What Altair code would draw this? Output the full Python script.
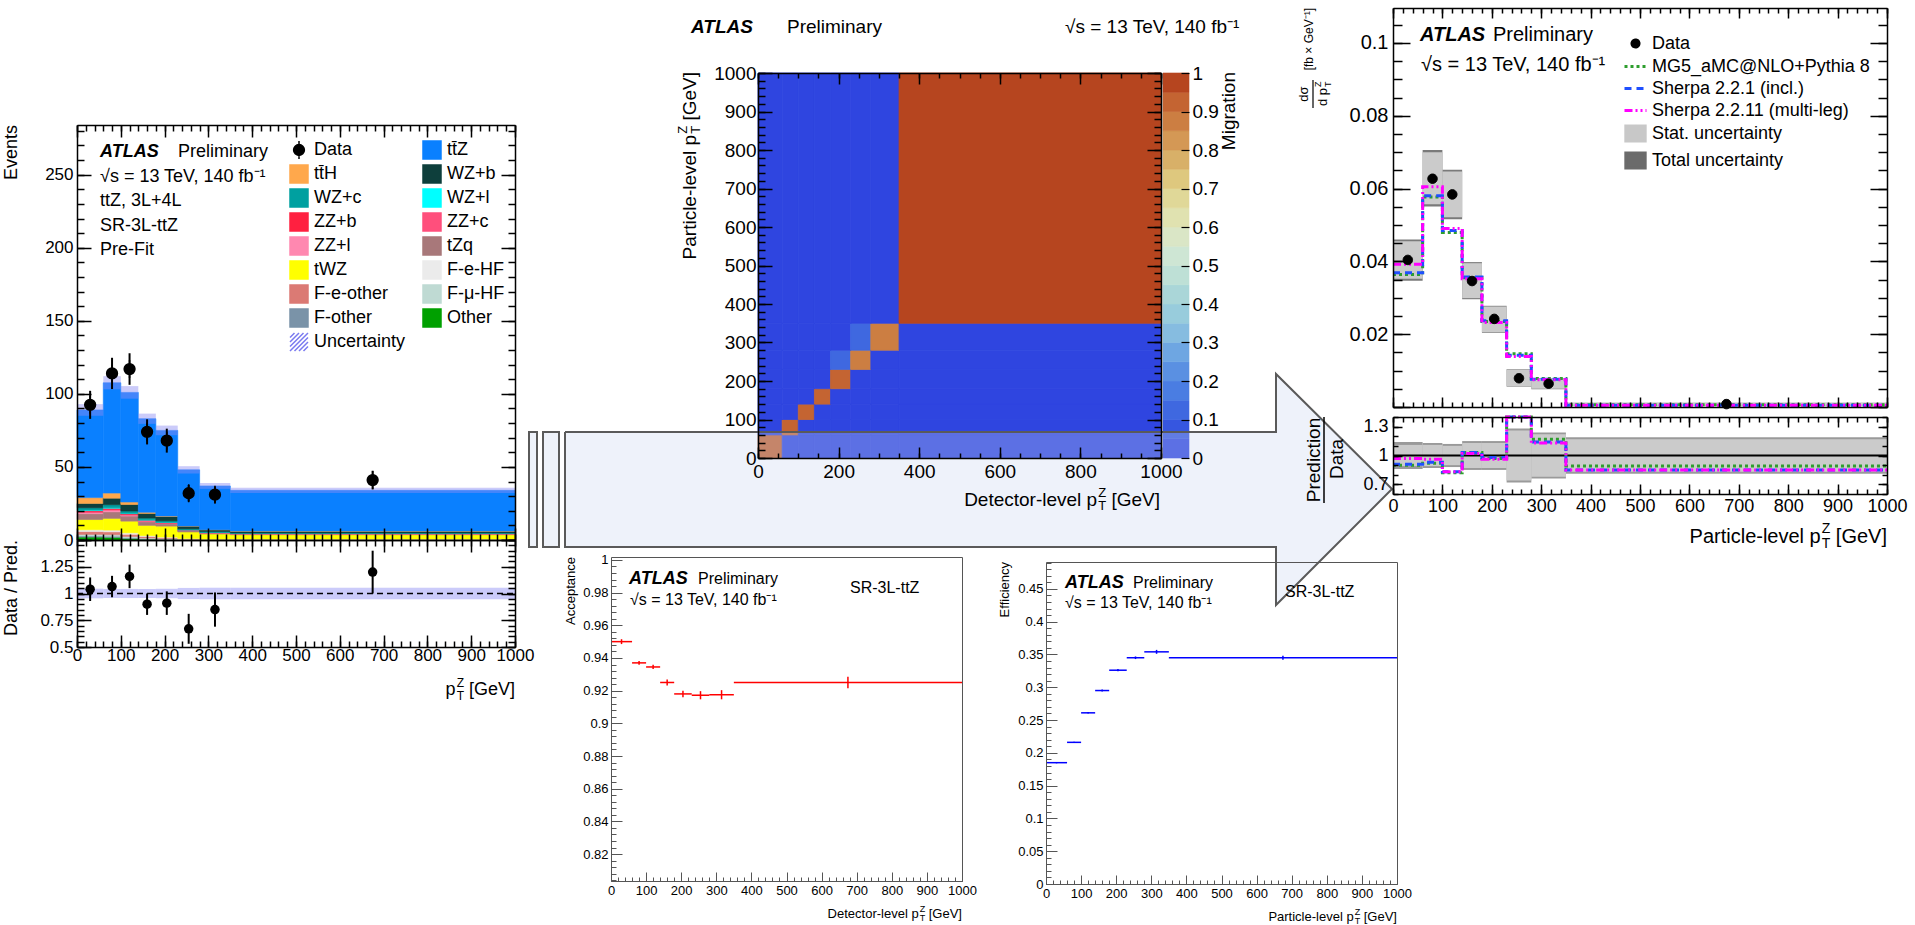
import altair as alt
import pandas as pd

W, H = 1915, 925
FONT = "Liberation Sans"
TTZ = "tt\u0304Z"
TTH = "tt\u0304H"

# ---------------- shared binning ----------------
edges = [0, 60, 100, 140, 180, 230, 280, 350, 1000]
lo = edges[:-1]
hi = edges[1:]
centers = [(a + b) / 2 for a, b in zip(lo, hi)]

# ---------------- left: detector-level yields ----------------
components = ["Other", "F-other", "F-μ-HF", "F-e-other", "F-e-HF", "tWZ", "tZq",
              "ZZ+l", "ZZ+c", "ZZ+b", "WZ+l", "WZ+c", "WZ+b", TTH, TTZ]
comp_colors = ["#00a000", "#7a93a8", "#bfdad3", "#db7a74", "#ebebeb", "#ffff00", "#a8787a",
               "#ff88b0", "#ff4f7c", "#ff2040", "#00ffff", "#00a0a0", "#0e3f3c", "#ffa84c", "#0a80ff"]
y_other = [2.0, 1.8, 1.0, 0.5, 0.3, 0.2, 0.1, 0.1]
y_fother = [0.8, 0.8, 0.6, 0.4, 0.3, 0.1, 0.1, 0.1]
y_fmuhf = [1.0, 1.0, 0.8, 0.5, 0.4, 0.2, 0.1, 0.1]
y_feother = [2.0, 2.0, 1.5, 1.0, 0.6, 0.3, 0.2, 0.2]
y_fehf = [1.2, 1.2, 1.0, 0.6, 0.4, 0.2, 0.1, 0.1]
y_twz = [7.0, 8.0, 8.0, 7.0, 7.5, 4.5, 3.5, 3.0]
y_tzq = [4.0, 4.5, 3.5, 2.5, 1.6, 1.0, 0.7, 0.5]
y_zzl = [0.8, 1.0, 0.6, 0.4, 0.3, 0.1, 0.1, 0.1]
y_zzc = [0.5, 0.6, 0.4, 0.3, 0.2, 0.1, 0.1, 0.1]
y_zzb = [0.8, 0.8, 0.6, 0.4, 0.3, 0.2, 0.1, 0.1]
y_wzl = [0.4, 0.4, 0.3, 0.2, 0.2, 0.1, 0.1, 0.05]
y_wzc = [1.5, 2.0, 1.5, 1.2, 1.0, 0.6, 0.5, 0.4]
y_wzb = [3.0, 4.5, 4.5, 3.2, 3.0, 1.9, 1.3, 1.2]
y_tth = [4.0, 3.5, 1.7, 0.8, 0.3, 0.1, 0.1, 0.1]
y_ttz = [60.0, 75.5, 75.0, 64.0, 58.6, 38.4, 29.9, 27.85]
yields = [y_other, y_fother, y_fmuhf, y_feother, y_fehf, y_twz, y_tzq, y_zzl, y_zzc,
          y_zzb, y_wzl, y_wzc, y_wzb, y_tth, y_ttz]
pred_unc = [4.0, 4.5, 4.3, 3.5, 3.3, 2.5, 2.0, 1.8]
data_events = [92.5, 114, 117, 74, 68, 32, 31, 41]
data_events_err = [9.6, 10.7, 10.8, 8.6, 8.2, 5.7, 5.6, 6.4]
ratio_vals = [1.04, 1.065, 1.16, 0.90, 0.91, 0.67, 0.85, 1.20]
ratio_err = [0.11, 0.10, 0.11, 0.10, 0.11, 0.14, 0.16, 0.20]

# legend entries in column order (two columns)
left_legend_entries = ["Data", TTH, "WZ+c", "ZZ+b", "ZZ+l", "tWZ", "F-e-other", "F-other", "Uncertainty",
                       TTZ, "WZ+b", "WZ+l", "ZZ+c", "tZq", "F-e-HF", "F-μ-HF", "Other"]

# ---------------- migration matrix (rows: particle level, cols: detector level) ----------------
migration = [
    [0.93, 0.04, 0.01, 0.01, 0.005, 0.003, 0.001, 0.001],
    [0.04, 0.91, 0.04, 0.005, 0.003, 0.001, 0.001, 0.0],
    [0.005, 0.04, 0.91, 0.04, 0.003, 0.001, 0.001, 0.0],
    [0.002, 0.004, 0.04, 0.91, 0.04, 0.003, 0.001, 0.0],
    [0.001, 0.002, 0.004, 0.04, 0.91, 0.04, 0.003, 0.0],
    [0.0, 0.001, 0.002, 0.004, 0.12, 0.86, 0.01, 0.002],
    [0.0, 0.0, 0.001, 0.002, 0.004, 0.12, 0.86, 0.01],
    [0.0, 0.0, 0.0, 0.0, 0.001, 0.003, 0.02, 0.97],
]
palette = ["#2f45e0", "#3656e0", "#3f68e0", "#4a7de2", "#5a90e2", "#6ea6e2", "#86bce0",
           "#98ccdc", "#aad6d8", "#bee0d6", "#cee6d4", "#dae6c6", "#e0e2b0", "#e0d898",
           "#dec87e", "#d8b068", "#d49855", "#cc7e42", "#c46432", "#b6451f"]
cb_lo = [0.0, 0.05, 0.1, 0.15, 0.2, 0.25, 0.3, 0.35, 0.4, 0.45, 0.5, 0.55, 0.6, 0.65,
         0.7, 0.75, 0.8, 0.85, 0.9, 0.95]
cb_hi = [0.05, 0.1, 0.15, 0.2, 0.25, 0.3, 0.35, 0.4, 0.45, 0.5, 0.55, 0.6, 0.65, 0.7,
         0.75, 0.8, 0.85, 0.9, 0.95, 1.0]

# ---------------- acceptance / efficiency ----------------
acceptance = [0.950, 0.937, 0.9345, 0.925, 0.918, 0.9172, 0.9175, 0.925]
acceptance_err = [0.0015, 0.0012, 0.0013, 0.0018, 0.002, 0.0025, 0.0028, 0.0035]
efficiency = [0.185, 0.216, 0.261, 0.295, 0.326, 0.345, 0.354, 0.345]
efficiency_err = [0.001, 0.001, 0.0012, 0.0015, 0.0017, 0.002, 0.003, 0.003]

# ---------------- unfolded cross-section ----------------
xs_data = [0.0404, 0.0627, 0.0584, 0.0346, 0.0242, 0.0079, 0.0064, 0.0008]
xs_tot_hi = [0.0460, 0.0706, 0.0652, 0.0398, 0.0278, 0.0104, 0.0079, 0.0012]
xs_tot_lo = [0.0347, 0.0551, 0.0516, 0.0296, 0.0204, 0.0056, 0.0049, 0.0004]
xs_stat_hi = [0.0455, 0.0700, 0.0647, 0.0395, 0.0276, 0.0103, 0.0078, 0.0011]
xs_stat_lo = [0.0352, 0.0557, 0.0521, 0.0299, 0.0206, 0.0057, 0.0050, 0.0005]
xs_mg5 = [0.0364, 0.0577, 0.0479, 0.0355, 0.0235, 0.0146, 0.0078, 0.0006]
xs_sh221 = [0.0369, 0.0580, 0.0485, 0.0357, 0.0237, 0.0142, 0.0076, 0.0005]
xs_sh2211 = [0.0392, 0.0605, 0.0490, 0.0352, 0.0232, 0.0139, 0.0075, 0.0005]
r_tot_hi = [1.14, 1.13, 1.12, 1.15, 1.15, 1.28, 1.24, 1.19]
r_tot_lo = [0.86, 0.87, 0.88, 0.85, 0.85, 0.72, 0.76, 0.81]
r_stat_hi = [1.11, 1.11, 1.10, 1.13, 1.13, 1.26, 1.22, 1.17]
r_stat_lo = [0.89, 0.89, 0.90, 0.87, 0.87, 0.74, 0.78, 0.83]
r_mg5 = [0.90, 0.92, 0.82, 1.03, 0.97, 1.85, 1.17, 0.89]
r_sh221 = [0.91, 0.93, 0.83, 1.03, 0.98, 1.80, 1.14, 0.85]
r_sh2211 = [0.97, 0.96, 0.83, 1.02, 0.96, 1.76, 1.13, 0.85]
right_legend_entries = ["Data", "MG5_aMC@NLO+Pythia 8", "Sherpa 2.2.1 (incl.)",
                        "Sherpa 2.2.11 (multi-leg)", "Stat. uncertainty", "Total uncertainty"]

# ================= layout (pixel frames) =================
P_LM = dict(xdom=[0, 1000], xr=[77, 515], ydom=[0, 284], yr=[540, 125])
P_LR = dict(xdom=[0, 1000], xr=[77, 515], ydom=[0.5, 1.5], yr=[647, 540])
P_MG = dict(xdom=[0, 1000], xr=[758, 1161], ydom=[0, 1000], yr=[458, 73])
P_CB = dict(xdom=[0, 1], xr=[1163, 1189], ydom=[0, 1], yr=[458, 73])
P_RM = dict(xdom=[0, 1000], xr=[1393, 1887], ydom=[0, 0.1096], yr=[407, 8])
P_RR = dict(xdom=[0, 1000], xr=[1393, 1887], ydom=[0.6, 1.4], yr=[494, 417])
P_AC = dict(xdom=[0, 1000], xr=[611, 962], ydom=[0.8035, 1.0018], yr=[881, 557])
P_EF = dict(xdom=[0, 1000], xr=[1046, 1397], ydom=[0, 0.491], yr=[884, 562])
P_CV = dict(xdom=[0, W], xr=[0, W], ydom=[0, H], yr=[0, H])

# decorative arrow (canvas pixels)
arrow_body = dict(x0=[565], x1=[1276], y0=[432], y1=[547])
arrow_head = dict(x=[1276, 1392], yt=[374, 489], yb=[605, 489])
arrow_outline_x = [565, 1276, 1276, 1392, 1276, 1276, 565, 565]
arrow_outline_y = [432, 432, 374, 489, 605, 547, 547, 432]
side_bars = dict(x0=[529, 543], x1=[537, 559], y0=[432, 432], y1=[547, 547])
ARROW_FILL = "#c6d4ee"
ARROW_LINE = "#5a5a5a"

ONE = pd.DataFrame({"a": [0]})


def S(P, axis, clamp=False):
    return alt.Scale(domain=P[axis + "dom"], range=P[axis + "r"], nice=False, zero=False, clamp=clamp)


def X(f, P, clamp=False):
    return alt.X(f, type="quantitative", scale=S(P, "x", clamp), axis=None)


def Y(f, P, clamp=False):
    return alt.Y(f, type="quantitative", scale=S(P, "y", clamp), axis=None)


layers = []

# ---------- left main: stacked histogram ----------
rows = []
for i in range(8):
    base = 0.0
    for name, vals in zip(components, yields):
        rows.append(dict(lo=lo[i], hi=hi[i], y0=base, y1=base + vals[i], comp=name))
        base += vals[i]
stack_df = pd.DataFrame(rows)
CSCALE = alt.Scale(domain=components, range=comp_colors)
layers.append(alt.Chart(stack_df).mark_rect(strokeWidth=0.6).encode(
    x=X("lo", P_LM), x2="hi", y=Y("y0", P_LM), y2="y1",
    fill=alt.Fill("comp:N", scale=CSCALE, legend=None),
    stroke=alt.Stroke("comp:N", scale=CSCALE, legend=None)))

totals = [sum(v[i] for v in yields) for i in range(8)]
band_df = pd.DataFrame(dict(lo=lo, hi=hi, b0=[t - u for t, u in zip(totals, pred_unc)],
                            b1=[t + u for t, u in zip(totals, pred_unc)]))
layers.append(alt.Chart(band_df).mark_rect(fill="#8c8cf5", fillOpacity=0.45).encode(
    x=X("lo", P_LM), x2="hi", y=Y("b0", P_LM), y2="b1"))

dat_df = pd.DataFrame(dict(x=centers, y=data_events, e0=[d - e for d, e in zip(data_events, data_events_err)],
                           e1=[d + e for d, e in zip(data_events, data_events_err)], entry="Data"))
layers.append(alt.Chart(dat_df).mark_rule(color="black", strokeWidth=2).encode(
    x=X("x", P_LM), y=Y("e0", P_LM), y2="e1"))

DATA_PATH = "M0,-1L0,1M-0.6,0A0.6,0.6,0,1,1,0.6,0A0.6,0.6,0,1,1,-0.6,0Z"
HATCH_PATH = ("M-1,-0.5L-0.5,-1M-1,0L0,-1M-1,0.5L0.5,-1M-1,1L1,-1M-0.5,1L1,-0.5"
              "M0,1L1,0M0.5,1L1,0.5")
col_of = dict(zip(components, comp_colors))
col_of["Data"] = "black"
col_of["Uncertainty"] = "#7a7af0"
lfill = [col_of[e] for e in left_legend_entries]
lshape = [DATA_PATH if e == "Data" else HATCH_PATH if e == "Uncertainty" else "square"
          for e in left_legend_entries]
LEG_L = dict(orient="none", legendX=289, legendY=140, columns=2, title=None, padding=0,
             labelFont=FONT, labelFontSize=18, labelColor="black", labelLimit=400,
             symbolSize=324, symbolStrokeWidth=1.5, rowPadding=0, columnPadding=14,
             labelOffset=5)
layers.append(alt.Chart(dat_df).mark_point(filled=True, size=324, opacity=1, strokeWidth=1.5).encode(
    x=X("x", P_LM), y=Y("y", P_LM),
    fill=alt.Fill("entry:N", scale=alt.Scale(domain=left_legend_entries, range=lfill), legend=alt.Legend(**LEG_L)),
    stroke=alt.Stroke("entry:N", scale=alt.Scale(domain=left_legend_entries, range=lfill), legend=alt.Legend(**LEG_L)),
    shape=alt.Shape("entry:N", scale=alt.Scale(domain=left_legend_entries, range=lshape), legend=alt.Legend(**LEG_L))))

# ---------- left ratio ----------
rband_df = pd.DataFrame(dict(lo=lo, hi=hi, b0=[1 - u / t for t, u in zip(totals, pred_unc)],
                             b1=[1 + u / t for t, u in zip(totals, pred_unc)]))
layers.append(alt.Chart(rband_df).mark_rect(fill="#8c8cf5", fillOpacity=0.45).encode(
    x=X("lo", P_LR), x2="hi", y=Y("b0", P_LR), y2="b1"))
one_df = pd.DataFrame(dict(x0=[0], x1=[1000], y=[1.0]))
layers.append(alt.Chart(one_df).mark_rule(color="black", strokeWidth=1.5, strokeDash=[6, 4]).encode(
    x=X("x0", P_LR), x2="x1", y=Y("y", P_LR)))
rat_df = pd.DataFrame(dict(x=centers, y=ratio_vals, e0=[r - e for r, e in zip(ratio_vals, ratio_err)],
                           e1=[r + e for r, e in zip(ratio_vals, ratio_err)]))
layers.append(alt.Chart(rat_df).mark_rule(color="black", strokeWidth=2).encode(
    x=X("x", P_LR), y=Y("e0", P_LR, True), y2="e1"))
layers.append(alt.Chart(rat_df).mark_circle(size=90, color="black", opacity=1).encode(
    x=X("x", P_LR), y=Y("y", P_LR)))

# ---------- migration matrix ----------
mrows = []
for j in range(8):
    for i in range(8):
        mrows.append(dict(x0=lo[i], x1=hi[i], y0=lo[j], y1=hi[j], v=migration[j][i]))
mig_df = pd.DataFrame(mrows)
QSCALE = alt.Scale(type="quantize", domain=[0, 1], range=palette)
layers.append(alt.Chart(mig_df).mark_rect(strokeWidth=0.8).encode(
    x=X("x0", P_MG), x2="x1", y=Y("y0", P_MG), y2="y1",
    fill=alt.Fill("v:Q", scale=QSCALE, legend=None),
    stroke=alt.Stroke("v:Q", scale=QSCALE, legend=None)))
cb_df = pd.DataFrame(dict(lo=cb_lo, hi=cb_hi, mid=[(a + b) / 2 for a, b in zip(cb_lo, cb_hi)], x0=0, x1=1))
layers.append(alt.Chart(cb_df).mark_rect(strokeWidth=0.6).encode(
    x=X("x0", P_CB), x2="x1", y=Y("lo", P_CB), y2="hi",
    fill=alt.Fill("mid:Q", scale=QSCALE, legend=None),
    stroke=alt.Stroke("mid:Q", scale=QSCALE, legend=None)))

# ---------- big arrow (decoration) ----------
layers.append(alt.Chart(pd.DataFrame(arrow_body)).mark_rect(fill=ARROW_FILL, fillOpacity=0.3).encode(
    x=X("x0", P_CV), x2="x1", y=Y("y0", P_CV), y2="y1"))
layers.append(alt.Chart(pd.DataFrame(arrow_head)).mark_area(fill=ARROW_FILL, fillOpacity=0.3).encode(
    x=X("x", P_CV), y=Y("yt", P_CV), y2="yb"))
outline_df = pd.DataFrame(dict(o=list(range(len(arrow_outline_x))), x=arrow_outline_x, y=arrow_outline_y))
layers.append(alt.Chart(outline_df).mark_line(color=ARROW_LINE, strokeWidth=2, strokeJoin="miter").encode(
    x=X("x", P_CV), y=Y("y", P_CV), order=alt.Order("o:Q")))
layers.append(alt.Chart(pd.DataFrame(side_bars)).mark_rect(fill=ARROW_FILL, fillOpacity=0.3, stroke=ARROW_LINE,
                                                          strokeWidth=2).encode(
    x=X("x0", P_CV), x2="x1", y=Y("y0", P_CV), y2="y1"))

# ---------- acceptance / efficiency ----------
for P, vals, errs, col in [(P_AC, acceptance, acceptance_err, "#ff0000"), (P_EF, efficiency, efficiency_err, "#0000ff")]:
    d = pd.DataFrame(dict(lo=lo, hi=hi, c=centers, v=vals, e0=[v - e for v, e in zip(vals, errs)],
                          e1=[v + e for v, e in zip(vals, errs)]))
    layers.append(alt.Chart(d).mark_rule(color=col, strokeWidth=1.5).encode(x=X("lo", P), x2="hi", y=Y("v", P)))
    layers.append(alt.Chart(d).mark_rule(color=col, strokeWidth=1.5).encode(x=X("c", P), y=Y("e0", P), y2="e1"))

# ---------- unfolded: main ----------
box_df = pd.DataFrame(dict(lo=lo, hi=hi, t0=xs_tot_lo, t1=xs_tot_hi, s0=xs_stat_lo, s1=xs_stat_hi))
layers.append(alt.Chart(box_df).mark_rect(fill="#7a7a7a").encode(x=X("lo", P_RM), x2="hi", y=Y("t0", P_RM), y2="t1"))
layers.append(alt.Chart(box_df).mark_rect(fill="#cbcbcb").encode(x=X("lo", P_RM), x2="hi", y=Y("s0", P_RM), y2="s1"))

MODEL_STYLE = [("#2e9e2e", [3, 3]), ("#1f4fff", [7, 5]), ("#ff00ff", [8, 3, 2, 3, 2, 3])]
for vals, (col, dash) in zip([xs_mg5, xs_sh221, xs_sh2211], MODEL_STYLE):
    d = pd.DataFrame(dict(x=edges, y=vals + [vals[-1]]))
    layers.append(alt.Chart(d).mark_line(interpolate="step-after", color=col, strokeWidth=3, strokeDash=dash).encode(
        x=X("x", P_RM), y=Y("y", P_RM)))

CIRC_S = "M-0.32,0A0.32,0.32,0,1,1,0.32,0A0.32,0.32,0,1,1,-0.32,0Z"
RECT_S = "M-0.88,-0.68H0.88V0.68H-0.88Z"
LINE_S = "M-1,0L1,0"
r_fill = ["black", "#2e9e2e", "#1f4fff", "#ff00ff", "#c8c8c8", "#6b6b6b"]
r_shape = [CIRC_S, LINE_S, LINE_S, LINE_S, RECT_S, RECT_S]
r_dash = [[1, 0], [3, 3], [7, 5], [8, 3, 2, 3, 2, 3], [1, 0], [1, 0]]
LEG_R = dict(orient="none", legendX=1623, legendY=31, title=None, padding=0, labelFont=FONT,
             labelFontSize=18, labelColor="black", labelLimit=400, symbolSize=484,
             symbolStrokeWidth=3, rowPadding=0, labelOffset=4)
xd_df = pd.DataFrame(dict(x=centers, y=xs_data, entry="Data"))
layers.append(alt.Chart(xd_df).mark_point(filled=True, size=880, opacity=1, strokeWidth=1).encode(
    x=X("x", P_RM), y=Y("y", P_RM),
    fill=alt.Fill("entry:N", scale=alt.Scale(domain=right_legend_entries, range=r_fill), legend=alt.Legend(**LEG_R)),
    stroke=alt.Stroke("entry:N", scale=alt.Scale(domain=right_legend_entries, range=r_fill), legend=alt.Legend(**LEG_R)),
    shape=alt.Shape("entry:N", scale=alt.Scale(domain=right_legend_entries, range=r_shape), legend=alt.Legend(**LEG_R)),
    strokeDash=alt.StrokeDash("entry:N", scale=alt.Scale(domain=right_legend_entries, range=r_dash), legend=alt.Legend(**LEG_R))))

# ---------- unfolded: ratio ----------
rbox_df = pd.DataFrame(dict(lo=lo, hi=hi, t0=r_tot_lo, t1=r_tot_hi, s0=r_stat_lo, s1=r_stat_hi))
layers.append(alt.Chart(rbox_df).mark_rect(fill="#9a9a9a").encode(x=X("lo", P_RR), x2="hi", y=Y("t0", P_RR), y2="t1"))
layers.append(alt.Chart(rbox_df).mark_rect(fill="#cbcbcb").encode(x=X("lo", P_RR), x2="hi", y=Y("s0", P_RR), y2="s1"))
layers.append(alt.Chart(one_df).mark_rule(color="black", strokeWidth=2).encode(x=X("x0", P_RR), x2="x1", y=Y("y", P_RR)))
for vals, (col, dash) in zip([r_mg5, r_sh221, r_sh2211], MODEL_STYLE):
    d = pd.DataFrame(dict(x=edges, y=vals + [vals[-1]]))
    layers.append(alt.Chart(d).mark_line(interpolate="step-after", color=col, strokeWidth=3, strokeDash=dash).encode(
        x=X("x", P_RR), y=Y("y", P_RR, True)))


# ================= frames and axes =================
def base_axis(**kw):
    d = dict(grid=False, title=None, zindex=1, labelOverlap=False, labelFlush=False)
    d.update(kw)
    return alt.Axis(**d)


def tick_axis(orient, off, vals, size, color, lw, domain):
    return base_axis(orient=orient, offset=off, values=vals, labels=False, ticks=size > 0, tickSize=size,
                     tickColor=color, tickWidth=lw, domain=domain, domainColor=color, domainWidth=lw)


def label_axis(orient, off, vals, fs, pad, fmt=".3~f"):
    return base_axis(orient=orient, offset=off, values=vals, labels=True, ticks=False, tickSize=0,
                     domain=False, labelFontSize=fs, labelPadding=pad, labelFont=FONT,
                     labelColor="black", format=fmt)


def axis_pair(P, xa, ya):
    d = pd.DataFrame({"x": [P["xdom"][0]], "y": [P["ydom"][0]]})
    return alt.Chart(d).mark_point(opacity=0, size=1).encode(
        x=alt.X("x:Q", scale=S(P, "x"), axis=xa), y=alt.Y("y:Q", scale=S(P, "y"), axis=ya))


def frame(P, xmaj, xmin, ymaj, ymin, tkx, tky, color="black", lw=1.5, far=True,
          xlab=None, ylab=None, xfs=17, yfs=17, xpad=1, ypad=4):
    L, R = P["xr"]
    B, T = P["yr"]
    out = [axis_pair(P, tick_axis("top", -B, xmaj, tkx[0], color, lw, True),
                     tick_axis("right", L - W, ymaj, tky[0], color, lw, True)),
           axis_pair(P, tick_axis("top", -B, xmin, tkx[1], color, lw, False),
                     tick_axis("right", L - W, ymin, tky[1], color, lw, False))]
    if far:
        out.append(axis_pair(P, tick_axis("bottom", T - H, xmaj, tkx[0], color, lw, True),
                             tick_axis("left", -R, ymaj, tky[0], color, lw, True)))
        out.append(axis_pair(P, tick_axis("bottom", T - H, xmin, tkx[1], color, lw, False),
                             tick_axis("left", -R, ymin, tky[1], color, lw, False)))
    else:
        out.append(axis_pair(P, tick_axis("bottom", T - H, [], 0, color, lw, True),
                             tick_axis("left", -R, [], 0, color, lw, True)))
    xa = label_axis("bottom", B - H, xlab, xfs, xpad) if xlab else None
    ya = label_axis("left", -L, ylab, yfs, ypad) if ylab else None
    if xa is not None or ya is not None:
        out.append(axis_pair(P, xa, ya))
    return out


def steps(a, b, s):
    n = int(round((b - a) / s))
    return [round(a + k * s, 5) for k in range(n + 1)]


X100 = steps(0, 1000, 100)
X20 = steps(0, 1000, 20)
layers += frame(P_LM, X100, X20, steps(0, 250, 50), steps(0, 280, 10), (12, 6), (14, 7), ylab=steps(0, 250, 50))
layers += frame(P_LR, X100, X20, steps(0.5, 1.5, 0.25), steps(0.5, 1.5, 0.05), (12, 6), (14, 7),
                xlab=X100, ylab=[0.5, 0.75, 1, 1.25], xpad=0)
layers += frame(P_MG, steps(0, 1000, 200), steps(0, 1000, 50), X100, X20, (11, 5), (14, 7),
                xlab=steps(0, 1000, 200), ylab=X100, xfs=19, yfs=19, xpad=4, ypad=2)
layers.append(axis_pair(P_CB, None, tick_axis("left", -1189, steps(0, 1, 0.1), 8, "black", 1.2, False)))
layers.append(axis_pair(P_CB, None, label_axis("right", 1189 - W, steps(0, 1, 0.1), 19, 3)))
layers += frame(P_RM, X100, X20, steps(0, 0.1, 0.02), steps(0, 0.105, 0.005), (10, 5), (17, 9),
                ylab=steps(0.02, 0.1, 0.02), yfs=20, ypad=5)
layers += frame(P_RR, X100, X20, [0.7, 1.0, 1.3], steps(0.6, 1.4, 0.1), (10, 5), (9, 5),
                xlab=X100, ylab=[0.7, 1, 1.3], xfs=18, yfs=18, xpad=3, ypad=5)
layers += frame(P_AC, X100, X20, steps(0.82, 1.0, 0.02), steps(0.804, 1.0, 0.004), (9, 4), (11, 5),
                color="#555555", lw=1, far=False, xlab=X100, ylab=steps(0.82, 1.0, 0.02), xfs=13, yfs=13,
                xpad=3, ypad=3)
layers += frame(P_EF, X100, X20, steps(0, 0.45, 0.05), steps(0, 0.49, 0.01), (9, 4), (11, 5),
                color="#555555", lw=1, far=False, xlab=X100, ylab=steps(0, 0.45, 0.05), xfs=13, yfs=13,
                xpad=3, ypad=3)


# ================= texts =================
def txt(s, x, y, size, align="left", angle=0, weight="normal", style="normal", dx=0, dy=0):
    return alt.Chart(ONE).mark_text(text=s, align=align, baseline="middle", fontSize=size, font=FONT,
                                    fontWeight=weight, fontStyle=style, angle=angle, dx=dx, dy=dy,
                                    color="black").encode(x=alt.value(x), y=alt.value(y))


def ptz(prefix, x, y, size, angle=0):
    w_gev = 2.557 * size
    gap = 0.278 * size
    ss = round(size * 0.68)
    wz = 0.611 * ss
    return [txt("[GeV]", x, y, size, "right", angle),
            txt("Z", x, y, ss, "right", angle, dx=-(w_gev + gap), dy=-0.38 * size),
            txt("T", x, y, ss, "right", angle, dx=-(w_gev + gap), dy=0.33 * size),
            txt(prefix + "p", x, y, size, "right", angle, dx=-(w_gev + gap + wz + 1))]


SQ = "√s = 13 TeV, 140 fb⁻¹"
texts = [
    txt("ATLAS", 100, 152, 18, weight="bold", style="italic"), txt("Preliminary", 178, 152, 18),
    txt(SQ, 100, 177, 18), txt("ttZ, 3L+4L", 100, 201, 18), txt("SR-3L-ttZ", 100, 226, 18),
    txt("Pre-Fit", 100, 250, 18),
    txt("Events", 12, 125, 18, "right", 270), txt("Data / Pred.", 12, 540, 18, "right", 270),
    txt("ATLAS", 691, 27, 19, weight="bold", style="italic"), txt("Preliminary", 787, 27, 19),
    txt(SQ, 1065, 27, 19), txt("Migration", 1229, 72, 19, "right", 270),
    txt("ATLAS", 629, 579, 18, weight="bold", style="italic"), txt("Preliminary", 698, 579, 16),
    txt(SQ, 630, 600, 16), txt("SR-3L-ttZ", 850, 588, 16), txt("Acceptance", 571, 557, 13, "right", 270),
    txt("ATLAS", 1065, 583, 18, weight="bold", style="italic"), txt("Preliminary", 1133, 583, 16),
    txt(SQ, 1065, 603, 16), txt("SR-3L-ttZ", 1285, 592, 16), txt("Efficiency", 1005, 562, 13, "right", 270),
    txt("ATLAS", 1420, 35, 20, weight="bold", style="italic"), txt("Preliminary", 1493, 35, 20),
    txt(SQ, 1421, 65, 20),
    txt("[fb × GeV⁻¹]", 1309, 8, 12, "right", 270),
    txt("dσ", 1304, 94, 13, "center", 270),
    txt("d p", 1323, 97, 13, "center", 270),
    txt("Z", 1323, 97, 9, "left", 270, dx=10, dy=-5), txt("T", 1323, 97, 9, "left", 270, dx=10, dy=5),
    txt("Prediction", 1314, 460, 19, "center", 270), txt("Data", 1337, 459, 19, "center", 270),
]
texts += ptz("", 515, 690, 18)
texts += ptz("Particle-level ", 690, 72, 19, 270)
texts += ptz("Detector-level ", 1160, 500, 19)
texts += ptz("Detector-level ", 962, 914, 13)
texts += ptz("Particle-level ", 1397, 917, 13)
texts += ptz("Particle-level ", 1887, 537, 20)
texts.append(alt.Chart(ONE).mark_rule(color="black", strokeWidth=1.2).encode(
    x=alt.value(1313), y=alt.value(80), y2=alt.value(108)))
texts.append(alt.Chart(ONE).mark_rule(color="black", strokeWidth=1.5).encode(
    x=alt.value(1324), y=alt.value(417), y2=alt.value(503)))
layers += texts

chart = alt.layer(*layers).properties(
    width=W, height=H, autosize=alt.AutoSizeParams(type="none"), padding=0
).resolve_scale(
    x="independent", y="independent", fill="independent", stroke="independent",
    shape="independent", strokeDash="independent", color="independent"
).resolve_axis(x="independent", y="independent").resolve_legend(
    fill="independent", stroke="independent", shape="independent", strokeDash="independent"
).configure_view(stroke=None)

chart.save("out.html", embed_options={"renderer": "svg", "actions": False})
